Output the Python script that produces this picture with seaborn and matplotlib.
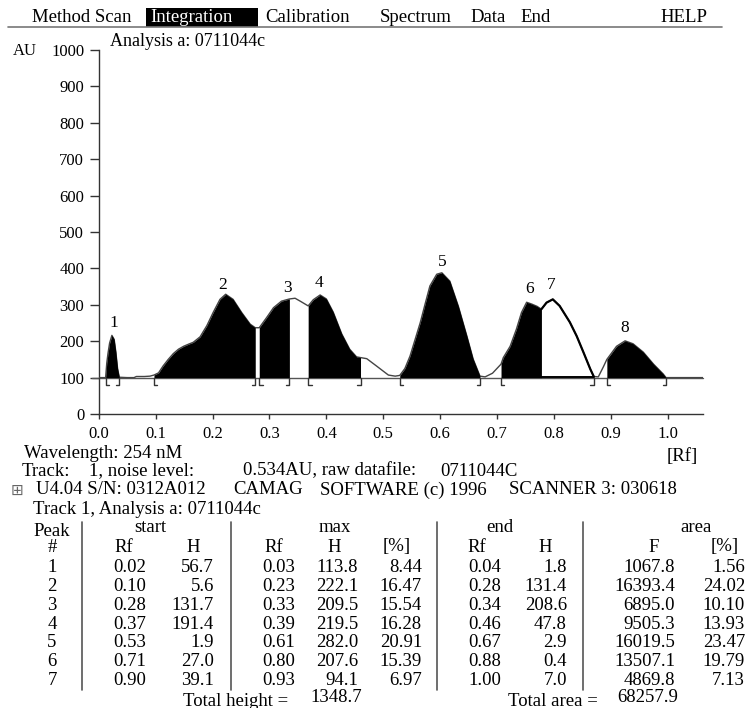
import numpy as np
import pandas as pd
import matplotlib
matplotlib.use("Agg")
import matplotlib.pyplot as plt
import seaborn as sns
from matplotlib.patches import Rectangle
from matplotlib.lines import Line2D

# ---------------- chart data ----------------
curve_rf = [0.000, 0.012, 0.014, 0.016, 0.019, 0.023, 0.027, 0.030, 0.033, 0.036,
            0.050, 0.062, 0.066, 0.080, 0.090, 0.097, 0.105, 0.113, 0.122, 0.131,
            0.140, 0.149, 0.158, 0.166, 0.178, 0.190, 0.201, 0.213, 0.223, 0.236,
            0.251, 0.266, 0.275, 0.282, 0.295, 0.307, 0.321, 0.335, 0.345, 0.354,
            0.368, 0.377, 0.389, 0.400, 0.412, 0.427, 0.441, 0.453, 0.460, 0.471,
            0.488, 0.509, 0.521, 0.529, 0.538, 0.547, 0.556, 0.565, 0.574, 0.582,
            0.594, 0.603, 0.617, 0.632, 0.647, 0.658, 0.670, 0.679, 0.692, 0.707,
            0.711, 0.723, 0.734, 0.743, 0.752, 0.761, 0.770, 0.778, 0.787, 0.798,
            0.810, 0.828, 0.840, 0.852, 0.864, 0.870, 0.878, 0.887, 0.893, 0.910,
            0.925, 0.939, 0.957, 0.975, 0.992, 0.997, 1.062]
curve_au = [100, 100, 140, 165, 195, 216, 205, 170, 125, 101,
            100, 100, 103, 103, 104, 107, 113, 132, 150, 166,
            178, 186, 192, 197, 212, 243, 279, 315, 329, 315,
            279, 247, 237, 237, 265, 292, 310, 316, 318, 310,
            297, 314, 327, 316, 280, 220, 178, 157, 155, 152,
            132, 107, 104, 106, 125, 159, 205, 251, 305, 352,
            384, 388, 365, 296, 214, 151, 104, 102, 112, 137,
            155, 186, 233, 279, 307, 302, 296, 288, 306, 315,
            297, 252, 214, 169, 123, 103, 102, 130, 150, 186,
            201, 193, 170, 137, 110, 100, 100]
baseline_au = 100

filled_start = [0.012, 0.097, 0.282, 0.368, 0.529, 0.707, 0.893]
filled_end = [0.036, 0.275, 0.335, 0.460, 0.670, 0.778, 0.997]
open_start = [0.778]
open_end = [0.870]

bracket_open = [0.012, 0.097, 0.282, 0.368, 0.529, 0.707, 0.893]
bracket_close = [0.036, 0.275, 0.335, 0.460, 0.670, 0.870, 0.997]

peak_labels = ["1", "2", "3", "4", "5", "6", "7", "8"]
peak_label_rf = [0.027, 0.218, 0.332, 0.387, 0.603, 0.758, 0.796, 0.925]
peak_label_au = [250, 354, 346, 361, 418, 343, 354, 235]

x_ticks = [0.0, 0.1, 0.2, 0.3, 0.4, 0.5, 0.6, 0.7, 0.8, 0.9, 1.0]
x_tick_labels = ["0.0", "0.1", "0.2", "0.3", "0.4", "0.5", "0.6", "0.7", "0.8", "0.9", "1.0"]
y_ticks = [0, 100, 200, 300, 400, 500, 600, 700, 800, 900, 1000]

menu_items = ["Method Scan", "Integration", "Calibration", "Spectrum", "Data", "End", "HELP"]

# table
tbl_peak = [1, 2, 3, 4, 5, 6, 7]
tbl_start_rf = [0.02, 0.10, 0.28, 0.37, 0.53, 0.71, 0.90]
tbl_start_h = [56.7, 5.6, 131.7, 191.4, 1.9, 27.0, 39.1]
tbl_max_rf = [0.03, 0.23, 0.33, 0.39, 0.61, 0.80, 0.93]
tbl_max_h = [113.8, 222.1, 209.5, 219.5, 282.0, 207.6, 94.1]
tbl_max_pct = [8.44, 16.47, 15.54, 16.28, 20.91, 15.39, 6.97]
tbl_end_rf = [0.04, 0.28, 0.34, 0.46, 0.67, 0.88, 1.00]
tbl_end_h = [1.8, 131.4, 208.6, 47.8, 2.9, 0.4, 7.0]
tbl_area_f = [1067.8, 16393.4, 6895.0, 9505.3, 16019.5, 13507.1, 4869.8]
tbl_area_pct = [1.56, 24.02, 10.10, 13.93, 23.47, 19.79, 7.13]
total_height = 1348.7
total_area = 68257.9

# ---------------- drawing ----------------
sns.set_style("ticks")
plt.rcParams['font.family'] = ['Liberation Serif', 'DejaVu Serif']
FS = 13.5      # text
FT = 12        # tick labels

W, H = 748, 708
fig = plt.figure(figsize=(W / 100, H / 100), dpi=100)
fig.patch.set_facecolor("white")

ax_l, ax_r, ax_b, ax_t = 98.8, 703, 414, 50
ax = fig.add_axes([ax_l / W, 1 - ax_b / H, (ax_r - ax_l) / W, (ax_b - ax_t) / H])
ax.set_facecolor("white")

df = pd.DataFrame({"rf": curve_rf, "au": curve_au})
rf = np.array(curve_rf)
au = np.array(curve_au)

# baseline
ax.plot([-0.012, 1.062], [baseline_au, baseline_au], color="#555555", lw=1.0,
        clip_on=False, zorder=2)

sns.lineplot(data=df, x="rf", y="au", ax=ax, color="#444444", lw=1.0,
             sort=False, estimator=None, zorder=3)

for a, b in zip(filled_start, filled_end):
    m = (rf >= a) & (rf <= b)
    ax.fill_between(rf[m], baseline_au, au[m], color="black", lw=0, zorder=4)

for a, b in zip(open_start, open_end):
    m = (rf >= a) & (rf <= b)
    sub = df[m]
    sns.lineplot(data=sub, x="rf", y="au", ax=ax, color="black", lw=1.6,
                 sort=False, estimator=None, zorder=5)
    ax.plot([a, b], [baseline_au + 1, baseline_au + 1], color="black", lw=1.4, zorder=5)

# brackets
bd = 20
bw = 0.006
for xb in bracket_open:
    ax.plot([xb + bw, xb, xb], [baseline_au - bd, baseline_au - bd, baseline_au],
            color="#333333", lw=1.0, zorder=6, clip_on=False)
for xb in bracket_close:
    ax.plot([xb - bw, xb, xb], [baseline_au - bd, baseline_au - bd, baseline_au],
            color="#333333", lw=1.0, zorder=6, clip_on=False)

for s, x, y in zip(peak_labels, peak_label_rf, peak_label_au):
    ax.text(x, y, s, ha="center", va="center", fontsize=FT + 0.5, color="black")

ax.set_xlim(0, 1.062)
ax.set_ylim(0, 1000)
ax.set_xticks(x_ticks)
ax.set_xticklabels(x_tick_labels)
ax.set_yticks(y_ticks)
ax.set_yticklabels([str(v) for v in y_ticks])
ax.set_xlabel("")
ax.set_ylabel("")
for sp in ["top", "right"]:
    ax.spines[sp].set_visible(False)
for sp in ["left", "bottom"]:
    ax.spines[sp].set_linewidth(1.0)
    ax.spines[sp].set_color("#333333")
ax.tick_params(axis="y", direction="out", length=6.5, width=1.0, pad=4,
               labelsize=FT, colors="#333333", labelcolor="black")
ax.tick_params(axis="x", direction="out", length=3.5, width=1.0, pad=5,
               labelsize=FT, colors="#333333", labelcolor="black")


def T(x, y, s, ha="left", **kw):
    kw.setdefault("fontsize", FS)
    kw.setdefault("color", "black")
    fig.text(x / W, 1 - y / H, s, ha=ha, va="center", **kw)


# menu bar
fig.add_artist(Rectangle((146 / W, 1 - 27 / H), 112 / W, 19 / H, transform=fig.transFigure,
                         facecolor="black", edgecolor="none"))
fig.add_artist(Line2D([8 / W, 722 / W], [1 - 26.5 / H, 1 - 26.5 / H], transform=fig.transFigure,
                      color="#777777", lw=1.2))
menu_x = [32, 150, 265, 380, 470, 520, 660]
for s, x in zip(menu_items, menu_x):
    T(x, 17, s, color="white" if s == "Integration" else "black")

T(13, 51, "AU", fontsize=FT)
T(110, 41, "Analysis a: 0711044c", fontsize=13)

# info lines
T(24, 453, "Wavelength: 254 nM")
T(698, 456, "[Rf]", ha="right")
T(22, 471, "Track:")
T(89, 471, "1, noise level:")
T(243, 471, "0.534AU, raw datafile:")
T(440, 471, "0711044C")
T(11, 490, "\u229e", family="DejaVu Sans", color="#666666", fontsize=11)
T(36, 490, "U4.04 S/N: 0312A012")
T(233, 490, "CAMAG")
T(320, 490, "SOFTWARE (c) 1996")
T(509, 490, "SCANNER 3: 030618")
T(33, 510, "Track 1, Analysis a: 0711044c")

# table header
T(52, 531, "Peak", ha="center")
T(150, 527, "start", ha="center")
T(335, 527, "max", ha="center")
T(500, 527, "end", ha="center")
T(696, 527, "area", ha="center")
hdr2 = [("#", 52), ("Rf", 124), ("H", 193), ("Rf", 274), ("H", 334), ("[%]", 397),
        ("Rf", 477), ("H", 545), ("F", 654), ("[%]", 725)]
for s, x in hdr2:
    T(x, 547, s, ha="center")

row_y0, row_dy = 568, 18.7
for i in range(len(tbl_peak)):
    y = row_y0 + i * row_dy
    T(52, y, str(tbl_peak[i]), ha="center")
    T(130, y, f"{tbl_start_rf[i]:.2f}", ha="center")
    T(214, y, f"{tbl_start_h[i]:.1f}", ha="right")
    T(279, y, f"{tbl_max_rf[i]:.2f}", ha="center")
    T(358, y, f"{tbl_max_h[i]:.1f}", ha="right")
    T(422, y, f"{tbl_max_pct[i]:.2f}", ha="right")
    T(485, y, f"{tbl_end_rf[i]:.2f}", ha="center")
    T(567, y, f"{tbl_end_h[i]:.1f}", ha="right")
    T(675, y, f"{tbl_area_f[i]:.1f}", ha="right")
    T(745, y, f"{tbl_area_pct[i]:.2f}", ha="right")

T(288, 701, "Total height =", ha="right")
T(310, 698, f"{total_height:.1f}")
T(598, 701, "Total area =", ha="right")
T(617, 698, f"{total_area:.1f}")

for xs in [82, 231, 437, 583]:
    fig.add_artist(Line2D([xs / W, xs / W], [1 - 522 / H, 1 - 690 / H], transform=fig.transFigure,
                          color="#555555", lw=1.2))

fig.savefig("out.png", dpi=100, facecolor="white")
